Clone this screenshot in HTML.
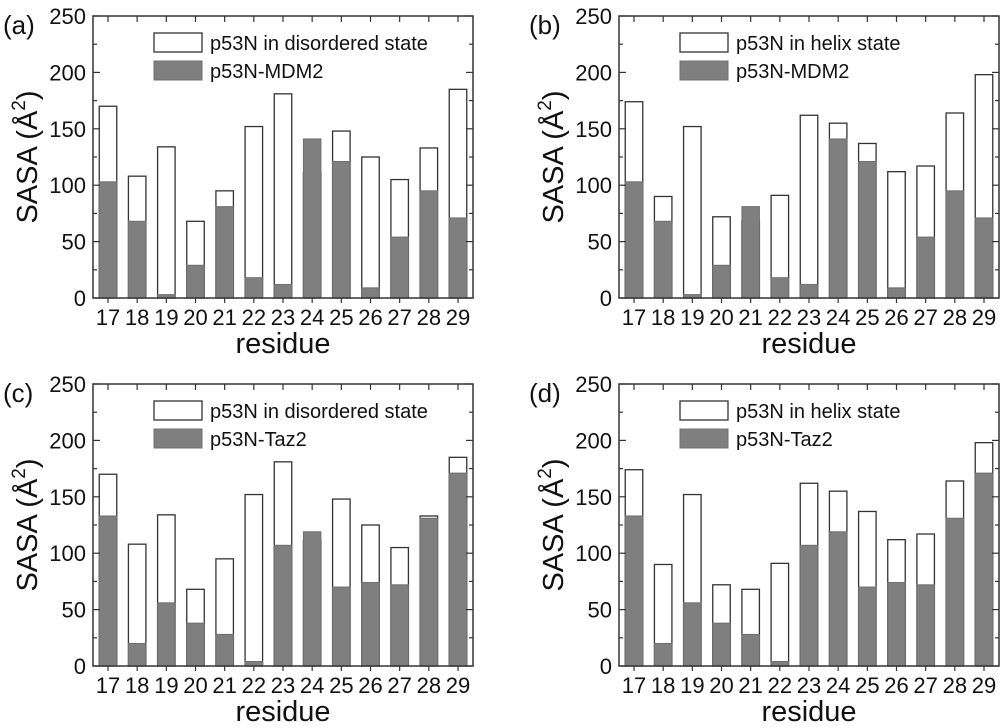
<!DOCTYPE html>
<html><head><meta charset="utf-8"><style>
body{margin:0;background:#fff}
svg{display:block;font-family:"Liberation Sans",Arial,sans-serif}
</style></head><body>
<svg id="fig" width="1000" height="728" xmlns="http://www.w3.org/2000/svg"></svg>
<script>
const residues = [17,18,19,20,21,22,23,24,25,26,27,28,29];
const disordered = [170,108,134,68,95,152,181,111,148,125,105,133,185];
const helix = [174,90,152,72,68,91,162,155,137,112,117,164,198];
const mdm2 = [103,68,3,29,81,18,12,141,121,9,54,95,71];
const taz2 = [133,20,56,38,28,4,107,119,70,74,72,131,171];
const yTicks = [0,50,100,150,200,250];

const panels = [
  {id:'a', x0:93, y0:16, white:disordered, gray:mdm2, l1:'p53N in disordered state', l2:'p53N-MDM2'},
  {id:'b', x0:619, y0:16, white:helix, gray:mdm2, l1:'p53N in helix state', l2:'p53N-MDM2'},
  {id:'c', x0:93, y0:384, white:disordered, gray:taz2, l1:'p53N in disordered state', l2:'p53N-Taz2'},
  {id:'d', x0:619, y0:384, white:helix, gray:taz2, l1:'p53N in helix state', l2:'p53N-Taz2'}
];
const NS='http://www.w3.org/2000/svg';
const svg=document.getElementById('fig');
function mk(tag,attrs,parent){const e=document.createElementNS(NS,tag);for(const k in attrs)e.setAttribute(k,attrs[k]);(parent||svg).appendChild(e);return e;}
const W=380,H=282,BW=17.5;
panels.forEach(p=>{
  const g=mk('g',{});
  
  
  const ys=v=>p.y0+H-v*H/250;
  const xs=i=>p.x0+15+i*(350/12);
  // bars
  residues.forEach((r,i)=>{
    const wb=mk('rect',{x:xs(i)-BW/2,y:ys(p.white[i]),width:BW,height:p.white[i]*H/250,fill:'#fff',stroke:'#333','stroke-width':1.3},g);
    
    
    const gb=mk('rect',{x:xs(i)-BW/2,y:ys(p.gray[i]),width:BW,height:p.gray[i]*H/250,fill:'#7f7f7f',stroke:'#6f6f6f','stroke-width':1},g);
    
    
    const t=mk('text',{x:xs(i),y:p.y0+H+27,'font-size':22,'text-anchor':'middle',fill:'#111'},g);
    t.textContent=r;
    
    
    mk('line',{x1:xs(i),x2:xs(i),y1:p.y0,y2:p.y0+6,stroke:'#333','stroke-width':1.2},g);
    mk('line',{x1:xs(i),x2:xs(i),y1:p.y0+H,y2:p.y0+H+5,stroke:'#333','stroke-width':1.2},g);
  });
  // y ticks
  for(let v=0;v<=250;v+=25){
    const len=v%50===0?7:4;
    mk('line',{x1:p.x0,x2:p.x0+len,y1:ys(v),y2:ys(v),stroke:'#333','stroke-width':1.2},g);
    mk('line',{x1:p.x0+W,x2:p.x0+W-len,y1:ys(v),y2:ys(v),stroke:'#333','stroke-width':1.2},g);
  }
  yTicks.forEach(v=>{
    const t=mk('text',{x:p.x0-7,y:ys(v)+8,'font-size':22,'text-anchor':'end',fill:'#111'},g);
    t.textContent=v;
    
    
  });
  const fr=mk('rect',{x:p.x0,y:p.y0,width:W,height:H,fill:'none',stroke:'#333','stroke-width':1.5},g);
  
  
  // labels
  const yl=mk('text',{transform:`translate(${p.x0-56},${p.y0+H/2}) rotate(-90)`,'font-size':29,'text-anchor':'middle',fill:'#111'},g);
  yl.innerHTML='SASA (Å<tspan dy="-12" font-size="19">2</tspan><tspan dy="12">)</tspan>';
  
  
  const xl=mk('text',{x:p.x0+W/2,y:p.y0+H+55,'font-size':29,'text-anchor':'middle',fill:'#111'},g);
  xl.textContent='residue';
  
  
  const pl=mk('text',{x:p.x0-90,y:p.y0+18,'font-size':26,fill:'#111'},g);
  pl.textContent='('+p.id+')';
  
  
  // legend
  const lg=mk('g',{},g);
  
  
  mk('rect',{x:p.x0+61,y:p.y0+17,width:48,height:19,fill:'#fff',stroke:'#333','stroke-width':1.3},lg);
  mk('rect',{x:p.x0+61,y:p.y0+45,width:48,height:19,fill:'#7f7f7f',stroke:'#6f6f6f','stroke-width':1},lg);
  const t1=mk('text',{x:p.x0+117,y:p.y0+34,'font-size':20,fill:'#111'},lg);t1.textContent=p.l1;
  
  
  const t2=mk('text',{x:p.x0+117,y:p.y0+62,'font-size':20,fill:'#111'},lg);t2.textContent=p.l2;
  
  
});
</script>
</body></html>
